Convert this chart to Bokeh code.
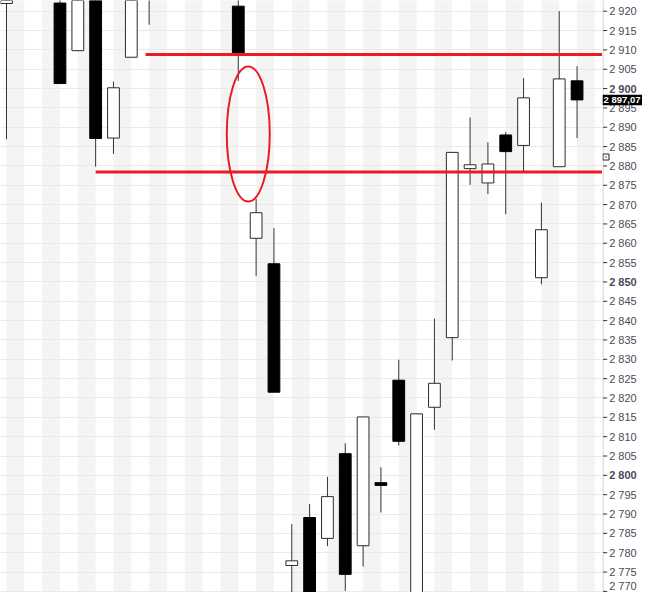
from bokeh.plotting import figure
from bokeh.layouts import row
from bokeh.models import Range1d, SingleIntervalTicker, ColumnDataSource, CDSView, BooleanFilter
from bokeh.core.properties import value
from bokeh.embed import file_html
from bokeh.resources import INLINE

# ---- data (bars whose whole range lies above the view are omitted) ----
idx = [0, 3, 4, 5, 6, 7, 8, 13, 14, 15, 16, 17, 18, 19, 20, 21, 22, 23, 24, 25,
       26, 27, 28, 29, 30, 31, 32]
open_ = [2922.0, 2922.1, 2909.8, 2930.0, 2887.2, 2908.1, 2928.0, 2921.3, 2861.3, 2854.7,
         2776.7, 2789.1, 2783.7, 2805.6, 2781.8, 2798.1, 2824.6, 2762.0, 2817.6, 2835.6,
         2879.3, 2875.6, 2888.0, 2885.3, 2851.1, 2879.8, 2902.0]
high = [2936.0, 2924.0, 2935.0, 2932.0, 2901.8, 2935.0, 2935.0, 2926.0, 2871.5, 2863.9,
        2787.4, 2792.6, 2799.6, 2808.3, 2815.1, 2802.1, 2829.9, 2815.9, 2840.5, 2883.5,
        2892.5, 2886.1, 2888.8, 2902.7, 2870.5, 2920.0, 2905.8]
low = [2886.9, 2901.3, 2909.8, 2879.8, 2883.1, 2908.1, 2916.5, 2902.0, 2851.5, 2821.5,
       2765.0, 2766.0, 2781.7, 2770.1, 2776.4, 2790.4, 2807.7, 2758.0, 2811.8, 2829.7,
       2875.1, 2872.7, 2867.5, 2878.7, 2849.4, 2879.8, 2887.2]
close = [2934.0, 2901.3, 2930.0, 2887.1, 2900.2, 2928.0, 2925.0, 2909.0, 2867.9, 2821.5,
         2777.9, 2768.3, 2794.5, 2774.4, 2815.1, 2797.4, 2808.8, 2815.9, 2823.8, 2883.5,
         2880.3, 2880.5, 2883.7, 2897.6, 2863.5, 2902.5, 2897.07]

tick_values = list(range(2770, 2925, 5))
bold_levels = [2800, 2850, 2900]
last_price = 2897.07
last_price_text = "2 897,07"
marker_level = 2882.3

# red annotations
hline_levels = [2908.8, 2878.4]
hline_starts = [7.8, 5.0]
ellipse_center = (13.56, 2888.25)
ellipse_size = (2.41, 34.9)

# ---- layout ----
X0, X1 = -0.3365, 33.427
Y0, Y1 = 2769.71, 2922.77
yr = Range1d(Y0, Y1)

p = figure(width=602, height=592, output_backend="svg", toolbar_location=None,
           x_range=Range1d(X0, X1), y_range=yr,
           x_axis_location=None, y_axis_location=None,
           min_border=0)
p.outline_line_color = None
p.background_fill_color = "white"
p.border_fill_color = "white"

# alternating stripes
sl = [float(k) for k in range(-2, 36) if k % 2 == 0]
p.quad(left=sl, right=[v + 1 for v in sl], bottom=Y0 - 20, top=Y1 + 20,
       fill_color="#f4f4f4", line_color=None, level="image")

p.xgrid.visible = False
p.ygrid.ticker = SingleIntervalTicker(interval=5, num_minor_ticks=0)
p.ygrid.grid_line_color = "#eaeaea"
p.ygrid.grid_line_width = 1

# candles
up = [c >= o for o, c in zip(open_, close)]
src = ColumnDataSource(dict(
    x=idx, o=open_, h=high, l=low, c=close,
    top=[max(o, c) for o, c in zip(open_, close)],
    bot=[min(o, c) for o, c in zip(open_, close)],
    fill=["white" if u else "black" for u in up],
    line=["#2b2b2b" if u else "black" for u in up],
))
p.segment(x0="x", y0="h", x1="x", y1="l", source=src, line_color="#333333", line_width=1)
# only bodies that reach into the visible window
body_view = CDSView(filter=BooleanFilter([min(o, c) < Y1 for o, c in zip(open_, close)]))
p.vbar(x="x", top="top", bottom="bot", width=0.66, source=src, view=body_view,
       fill_color="fill", line_color="line", line_width=1)

# red lines + ellipse
for lvl, st in zip(hline_levels, hline_starts):
    p.segment(x0=st, y0=lvl, x1=X1 + 1, y1=lvl, line_color="#e81c24", line_width=3)
p.ellipse(x=ellipse_center[0], y=ellipse_center[1], width=ellipse_size[0],
          height=ellipse_size[1], fill_color=None, line_color="#e81c24", line_width=2)

# ---- price axis panel ----
a = figure(width=40, height=592, output_backend="svg", toolbar_location=None,
           x_range=Range1d(0, 40), y_range=yr,
           x_axis_location=None, y_axis_location=None, min_border=0)
a.outline_line_color = None
a.grid.visible = False
a.background_fill_color = "white"
a.border_fill_color = "white"

a.segment(x0=0.5, y0=Y0 - 10, x1=0.5, y1=Y1 + 10, line_color="#c8c8c8", line_width=1)
a.segment(x0=[0.5] * len(tick_values), y0=tick_values, x1=[4.7] * len(tick_values),
          y1=tick_values, line_color="#333333", line_width=1)

lab = [f"{v:,}".replace(",", " ") for v in tick_values]
# keep the lowest label inside the picture
yoff = [-5 if v == min(tick_values) else 0 for v in tick_values]
style = ["bold" if v in bold_levels else "normal" for v in tick_values]
tsrc = ColumnDataSource(dict(x=[6.7] * len(tick_values), y=tick_values, t=lab,
                             yo=yoff, fs=style))
a.text(x="x", y="y", text="t", y_offset="yo", text_font_style="fs", source=tsrc,
       text_font=value("Liberation Sans"), text_font_size="11px", text_color="#4a4a5a",
       text_baseline="middle", text_align="left")

# last price tag
a.rect(x=[20.0], y=[last_price], width=[40.0], height=[10.5], height_units="screen",
       fill_color="black", line_color=None)
a.text(x=[1.0], y=[last_price], text=[last_price_text],
       text_font=value("Liberation Sans"), text_font_size="9.5px", text_color="white",
       text_font_style="bold", text_baseline="middle", text_align="left")

# small marker
a.scatter(x=[3.5], y=[marker_level], marker="square_dot", size=6,
          fill_color="white", line_color="#222222", line_width=1)

layout = row(p, a, spacing=0)
open("out.html", "w").write(file_html(layout, INLINE))
